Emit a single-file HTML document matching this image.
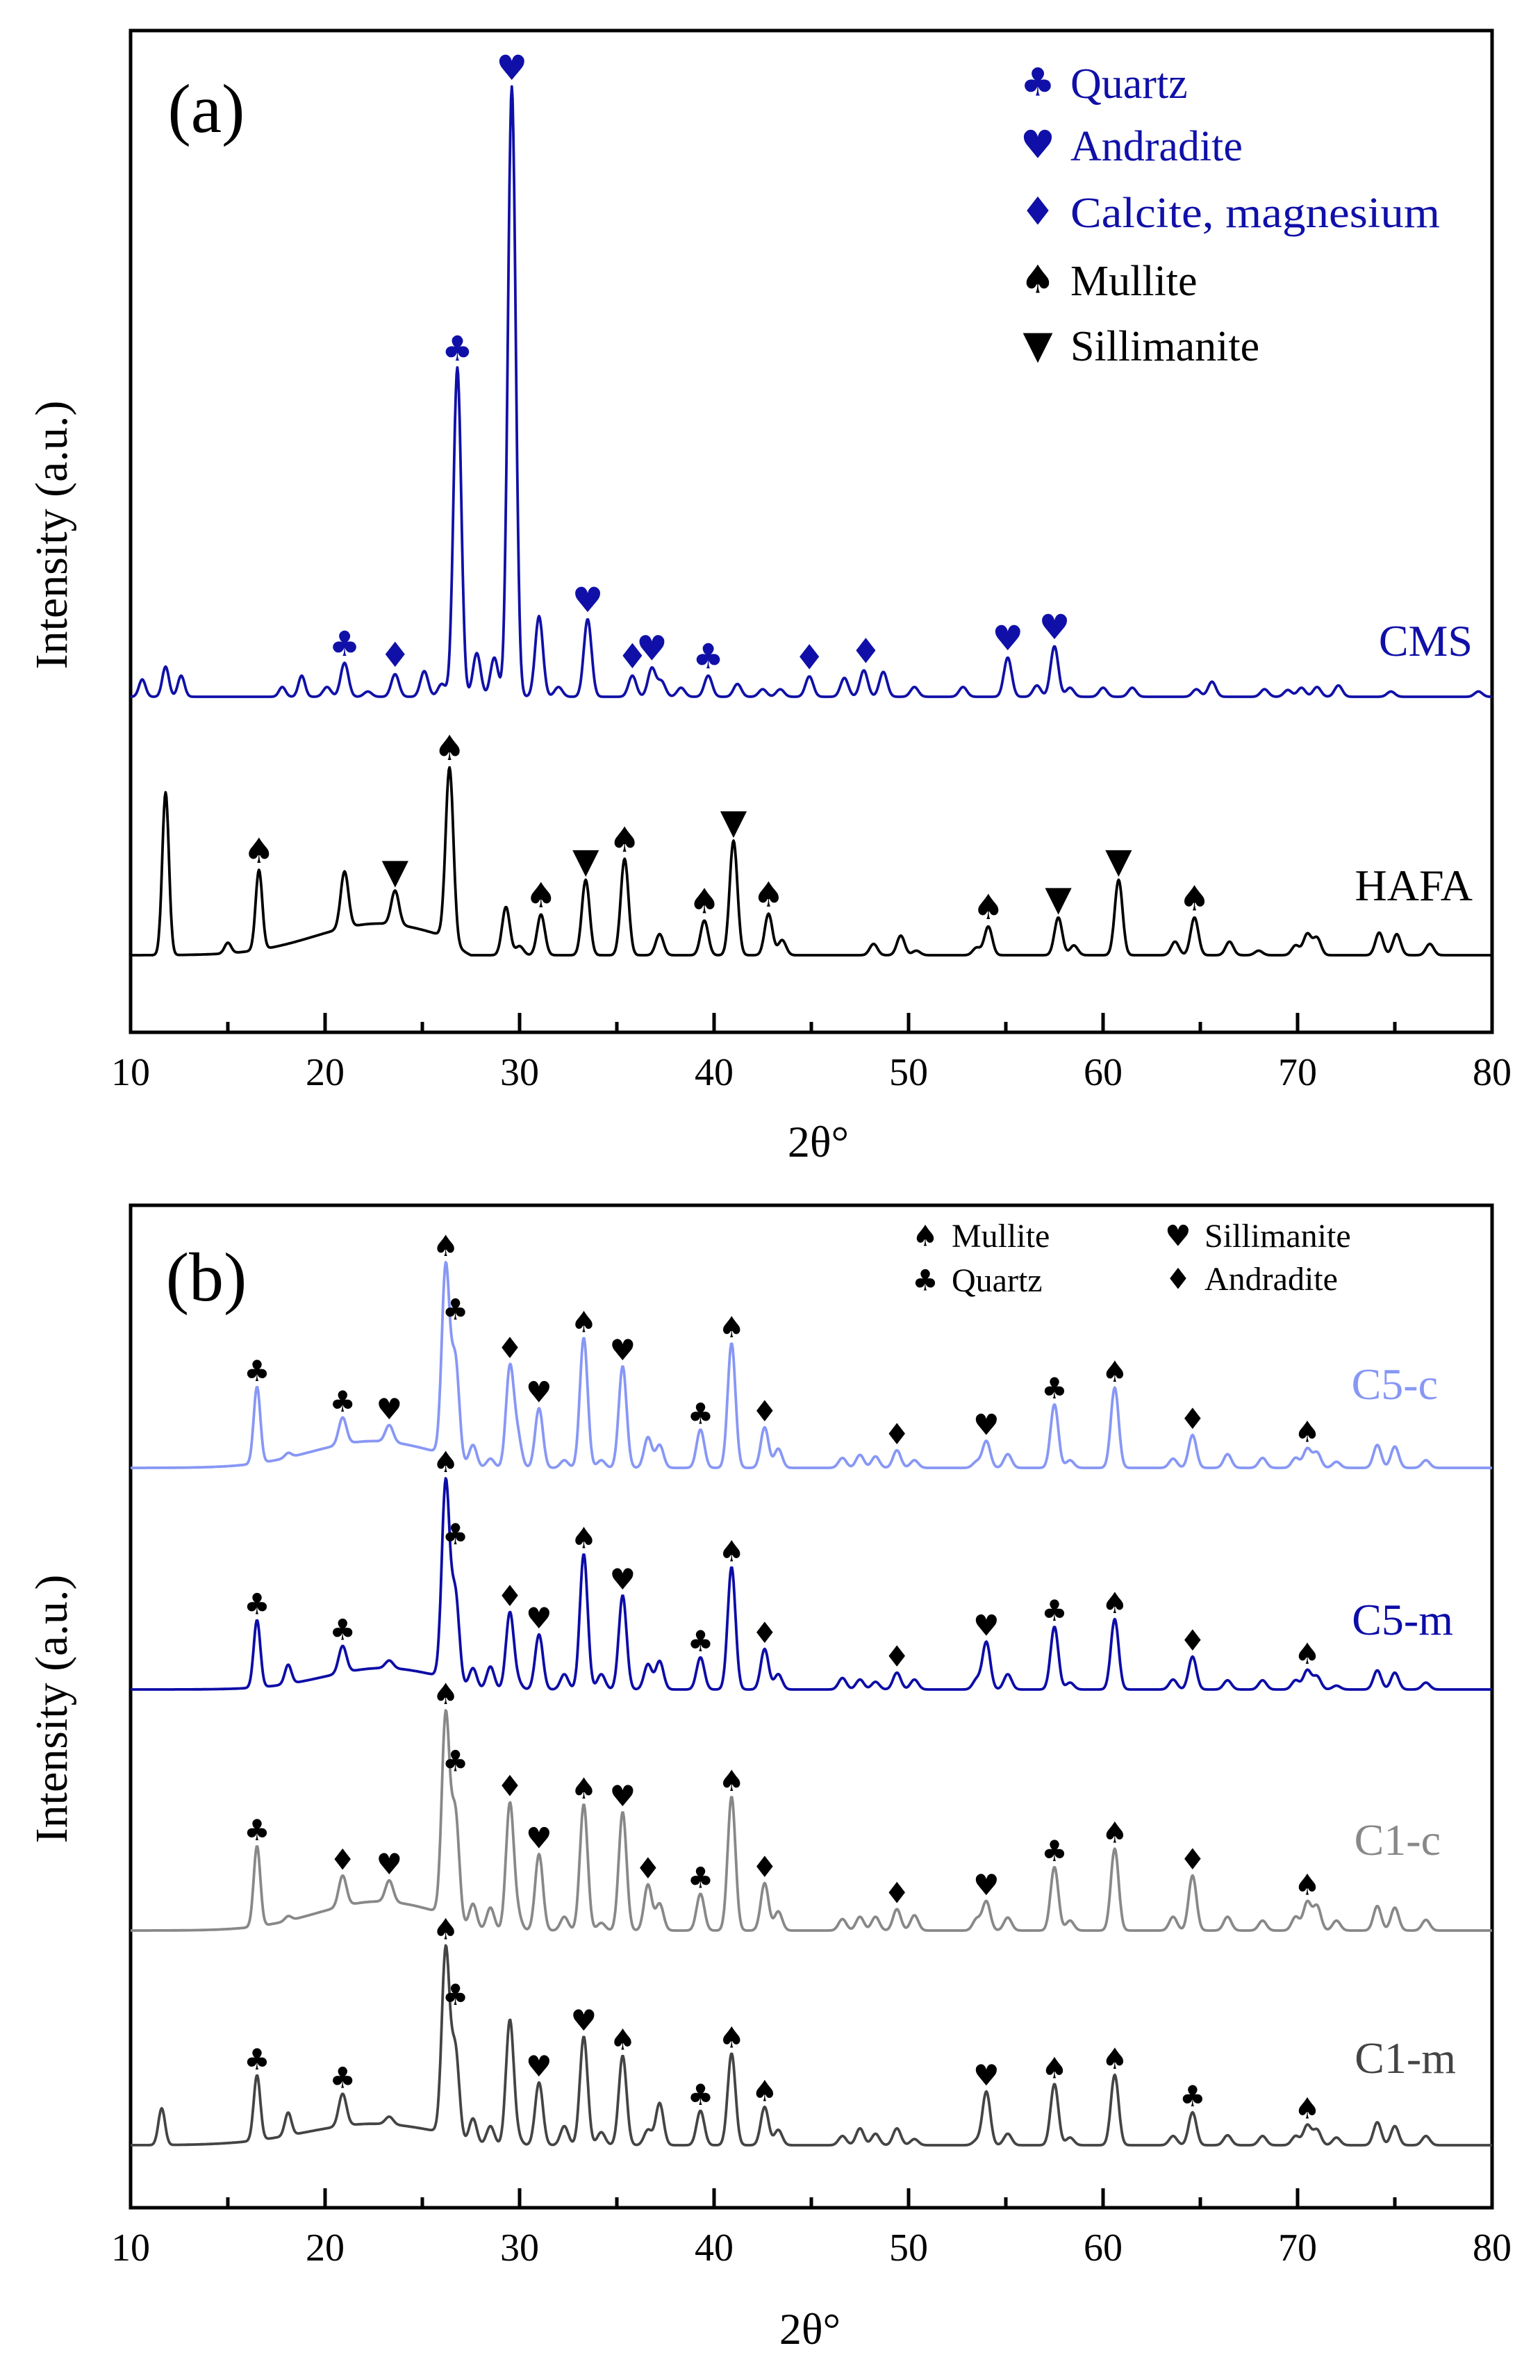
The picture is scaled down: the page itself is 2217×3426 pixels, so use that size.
<!DOCTYPE html>
<html><head><meta charset="utf-8"><title>XRD patterns</title>
<style>
html,body{margin:0;padding:0;background:#fff;}
svg{display:block;}
.serif{font-family:"Liberation Serif","DejaVu Serif",serif;}
.sym{font-family:"DejaVu Sans",sans-serif;}
</style></head>
<body>
<svg id="fig" width="2217" height="3426" viewBox="0 0 2217 3426" xmlns="http://www.w3.org/2000/svg">
  <g id="panelA"></g>
  <g id="panelB"></g>
</svg>
<script>
// ---- shared axis ----
const xTicksMajor = [10,20,30,40,50,60,70,80];
const xTicksMinor = [15,25,35,45,55,65,75];

// ---- Panel (a) data: peak 2θ, heights (a.u.) ----
const cmsPos = [10.6,11.8,12.6,17.8,18.8,20.1,21.0,22.2,23.6,25.1,26.0,26.8,27.8,28.7,29.6,31.0,32.0,33.5,35.8,36.8,37.3,38.3,39.7,41.2,42.5,43.4,44.9,46.7,47.7,48.7,50.3,52.8,55.1,56.6,57.5,58.3,60.0,61.5,64.8,65.6,68.3,69.5,70.2,71.0,72.1,74.8,79.3];
const cmsHeight = [23,40,28,13,28,13,45,7,30,34,17,437,58,52,810,107,13,103,28,38,20,12,28,17,10,10,27,25,35,33,13,13,52,15,67,12,12,12,10,20,10,9,12,13,15,7,7];
const hafaPos = [11.8,15.0,16.6,21.0,23.6,26.4,29.3,30.0,31.1,33.4,35.4,37.2,39.5,41.0,42.8,43.5,48.2,49.6,50.4,53.5,54.1,57.7,58.5,60.8,63.7,64.7,66.5,68.0,69.9,70.5,71.0,74.2,75.1,76.8];
const hafaHeight = [216,14,106,75,45,228,64,12,54,100,128,28,46,152,55,20,15,26,6,10,38,50,13,100,18,50,18,6,13,28,23,30,28,15];
const hafaHump = {center:22.8, sigma:3.3, height:42};

// ---- Panel (b) data ----
const bPos = [11.6,16.5,18.1,20.9,23.3,26.2,26.7,27.6,28.5,29.5,29.9,31.0,32.3,33.3,34.2,35.3,36.6,37.2,39.3,40.9,42.6,43.3,46.6,47.5,48.3,49.4,50.3,53.5,54.0,55.1,57.5,58.3,60.6,63.6,64.6,66.4,68.2,69.9,70.5,71.0,72.0,74.1,75.0,76.6];
const c5cHeight = [0,100,6,35,22,245,130,30,12,130,40,78,10,170,10,133,40,30,50,163,53,25,13,17,15,23,10,8,35,18,83,10,105,12,43,18,13,13,25,20,8,30,28,10];
const c5mHeight = [0,88,25,35,10,255,115,28,30,100,10,72,20,177,20,123,33,37,42,160,53,20,15,13,10,22,13,13,62,20,82,9,92,13,43,12,12,12,25,17,5,25,22,9];
const c1cHeight = [0,105,6,40,28,260,140,35,30,165,20,100,18,165,10,155,60,35,48,175,62,25,15,18,18,28,20,15,38,17,83,13,107,18,72,18,13,18,37,32,13,32,30,14];
const c1mHeight = [48,85,30,42,10,240,115,35,25,163,10,82,25,142,17,117,20,55,45,120,50,20,12,22,15,22,8,6,70,15,80,10,92,12,43,13,12,12,26,20,10,30,25,12];
const c5cHump = {center:22.5, sigma:3.2, height:35};
const c5mHump = {center:23.0, sigma:3.0, height:28};
const c1cHump = {center:22.8, sigma:3.2, height:38};
const c1mHump = {center:22.5, sigma:3.5, height:28};

// ---- Markers ----
const cmsMarkers = [[21.0,'♣'],[23.6,'♦'],[26.8,'♣'],[29.6,'♥'],[33.5,'♥'],[35.8,'♦'],[36.8,'♥'],[39.7,'♣'],[44.9,'♦'],[47.8,'♦'],[55.1,'♥'],[57.5,'♥']];
const hafaMarkers = [[16.6,'♠'],[23.6,'▼'],[26.4,'♠'],[31.1,'♠'],[33.4,'▼'],[35.4,'♠'],[39.5,'♠'],[41.0,'▼'],[42.8,'♠'],[54.1,'♠'],[57.7,'▼'],[60.8,'▼'],[64.7,'♠']];
const c5cMarkers = [[16.5,'♣'],[20.9,'♣'],[23.3,'♥'],[26.2,'♠'],[26.7,'♣'],[29.5,'♦'],[31.0,'♥'],[33.3,'♠'],[35.3,'♥'],[39.3,'♣'],[40.9,'♠'],[42.6,'♦'],[49.4,'♦'],[54.0,'♥'],[57.5,'♣'],[60.6,'♠'],[64.6,'♦'],[70.5,'♠']];
const c5mMarkers = [[16.5,'♣'],[20.9,'♣'],[26.2,'♠'],[26.7,'♣'],[29.5,'♦'],[31.0,'♥'],[33.3,'♠'],[35.3,'♥'],[39.3,'♣'],[40.9,'♠'],[42.6,'♦'],[49.4,'♦'],[54.0,'♥'],[57.5,'♣'],[60.6,'♠'],[64.6,'♦'],[70.5,'♠']];
const c1cMarkers = [[16.5,'♣'],[20.9,'♦'],[23.3,'♥'],[26.2,'♠'],[26.7,'♣'],[29.5,'♦'],[31.0,'♥'],[33.3,'♠'],[35.3,'♥'],[36.6,'♦'],[39.3,'♣'],[40.9,'♠'],[42.6,'♦'],[49.4,'♦'],[54.0,'♥'],[57.5,'♣'],[60.6,'♠'],[64.6,'♦'],[70.5,'♠']];
const c1mMarkers = [[16.5,'♣'],[20.9,'♣'],[26.2,'♠'],[26.7,'♣'],[31.0,'♥'],[33.3,'♥'],[35.3,'♠'],[39.3,'♣'],[40.9,'♠'],[42.6,'♠'],[54.0,'♥'],[57.5,'♠'],[60.6,'♠'],[64.6,'♣'],[70.5,'♠']];

const NS = 'http://www.w3.org/2000/svg';
const X0 = 188, X1 = 2148;
function xScale(t){ return X0 + (t - 10) * (X1 - X0) / 70; }
function mk(tag, attrs, parent){
  const e = document.createElementNS(NS, tag);
  for (const k in attrs) e.setAttribute(k, attrs[k]);
  parent.appendChild(e); return e;
}
function intensity(t, pos, hts, hump){
  let v = 0;
  for (let i=0;i<pos.length;i++){
    const s = pos[i] < 20 ? 0.17 : 0.2;
    const d = t - pos[i];
    v += hts[i] * Math.exp(-d*d/(2*s*s));
  }
  if (hump){
    const d = t - hump.center;
    let h = hump.height * Math.exp(-d*d/(2*hump.sigma*hump.sigma));
    if (t > 26.3) h *= Math.max(0, 1 - (t-26.3)/1.2) ;
    v += h;
  }
  return v;
}

function drawFrame(g, top, bottom, name){
  const f = mk('rect',{x:X0,y:top,width:X1-X0,height:bottom-top,fill:'none',stroke:'#000','stroke-width':5},g);
  
  
  xTicksMajor.forEach(t=>{
    const l = mk('line',{x1:xScale(t),x2:xScale(t),y1:bottom,y2:bottom-28,stroke:'#000','stroke-width':5},g);
    
    
    const tx = mk('text',{x:xScale(t),y:bottom+76,'text-anchor':'middle','font-size':56,class:'serif',fill:'#000'},g);
    tx.textContent = t;
    
    
  });
  xTicksMinor.forEach(t=>{
    const l = mk('line',{x1:xScale(t),x2:xScale(t),y1:bottom,y2:bottom-15,stroke:'#000','stroke-width':5},g);
    
    
  });
}

function drawSeries(g, pos, hts, hump, base, k, color, markers, msize, mcolor, name){
  let d = '';
  for (let t=10; t<=80.0001; t+=0.04){
    const y = base - intensity(t,pos,hts,hump)*k;
    d += (d?'L':'M') + xScale(t).toFixed(1) + ' ' + y.toFixed(1);
  }
  const p = mk('path',{d:d,fill:'none',stroke:color,'stroke-width':3.8,'stroke-linejoin':'round'},g);
  
  
  markers.forEach(m=>{
    let mx = 0;
    for (let t=m[0]-0.25;t<=m[0]+0.25;t+=0.02) mx = Math.max(mx, intensity(t,pos,hts,hump));
    const y = base - mx*k - msize*0.55;
    const tx = mk('text',{x:xScale(m[0]),y:y,'text-anchor':'middle','dominant-baseline':'central','font-size':msize,class:'sym',fill:mcolor},g);
    tx.textContent = m[1];
    
    
  });
}

// ---- Panel A ----
const gA = document.getElementById('panelA');
drawFrame(gA, 44, 1486, 'panel-a');
const kA = 1/0.922;
drawSeries(gA, cmsPos, cmsHeight, null, 1003, kA, '#1010a8', cmsMarkers, 50, '#1010a8', 'cms');
drawSeries(gA, hafaPos, hafaHeight, hafaHump, 1375, kA, '#000', hafaMarkers, 50, '#000', 'hafa');

// ---- Panel B ----
const gB = document.getElementById('panelB');
drawFrame(gB, 1735, 3178, 'panel-b');
const kB = 1/0.908;
drawSeries(gB, bPos, c5cHeight, c5cHump, 2113, kB, '#8797f5', c5cMarkers, 42, '#000', 'c5-c');
drawSeries(gB, bPos, c5mHeight, c5mHump, 2432, kB, '#0c0ca8', c5mMarkers, 42, '#000', 'c5-m');
drawSeries(gB, bPos, c1cHeight, c1cHump, 2779, kB, '#888888', c1cMarkers, 42, '#000', 'c1-c');
drawSeries(gB, bPos, c1mHeight, c1mHump, 3088, kB, '#444444', c1mMarkers, 42, '#000', 'c1-m');
</script>
<script>
// static labels
(function(){
  const NS='http://www.w3.org/2000/svg';
  const svg=document.getElementById('fig');
  function t(x,y,str,size,fill,anchor,name,extra){
    const e=document.createElementNS(NS,'text');
    e.setAttribute('x',x);e.setAttribute('y',y);
    e.setAttribute('font-size',size);e.setAttribute('fill',fill);
    e.setAttribute('text-anchor',anchor);
    e.setAttribute('class','serif');
    if(extra) for(const k in extra) e.setAttribute(k,extra[k]);
    e.textContent=str;
    
    
    svg.appendChild(e);return e;
  }
  function s(x,y,str,size,fill,name){
    const e=document.createElementNS(NS,'text');
    e.setAttribute('x',x);e.setAttribute('y',y);
    e.setAttribute('font-size',size);e.setAttribute('fill',fill);
    e.setAttribute('text-anchor','middle');e.setAttribute('dominant-baseline','central');
    e.setAttribute('class','sym');
    e.textContent=str;
    
    
    svg.appendChild(e);return e;
  }
  // panel a
  t(297,190,'(a)',100,'#000','middle','panel-a-label');
  const blue='#1010a8';
  const legA=[['♣','Quartz',blue],['♥','Andradite',blue],['♦','Calcite, magnesium',blue],['♠','Mullite','#000'],['▼','Sillimanite','#000']];
  const legY=[119,209,305,403,497];
  legA.forEach((l,i)=>{
    s(1494,legY[i],l[0],56,l[2],'legend-a-symbol');
    const extra = (l[1]==='Calcite, magnesium') ? {textLength:532,lengthAdjust:'spacingAndGlyphs'} : null;
    t(1541,legY[i]+22,l[1],62,l[2],'start','legend-a-entry',extra);
  });
  t(2120,944,'CMS',64,blue,'end','cms-label');
  t(2120,1296,'HAFA',64,'#000','end','hafa-label');
  t(1178,1665,'2θ°',64,'#000','middle','panel-a-x-axis-title');
  t(0,0,'Intensity (a.u.)',66,'#000','middle','panel-a-y-axis-title',{transform:'translate(96,770) rotate(-90)'});
  // panel b
  t(297,1872,'(b)',100,'#000','middle','panel-b-label');
  const legB=[[1332,1779,'♠','Mullite'],[1332,1843,'♣','Quartz'],[1696,1779,'♥','Sillimanite'],[1696,1841,'♦','Andradite']];
  legB.forEach(l=>{
    s(l[0],l[1],l[2],42,'#000','legend-b-symbol');
    t(l[0]+38,l[1]+16,l[3],48,'#000','start','legend-b-entry');
  });
  t(2070,2014,'C5-c',64,'#8797f5','end','c5-c-label');
  t(2092,2353,'C5-m',64,'#0c0ca8','end','c5-m-label');
  t(2074,2670,'C1-c',64,'#888888','end','c1-c-label');
  t(2096,2984,'C1-m',64,'#444444','end','c1-m-label');
  t(1166,3374,'2θ°',64,'#000','middle','panel-b-x-axis-title');
  t(0,0,'Intensity (a.u.)',66,'#000','middle','panel-b-y-axis-title',{transform:'translate(96,2460) rotate(-90)'});
})();
</script>
</body></html>
